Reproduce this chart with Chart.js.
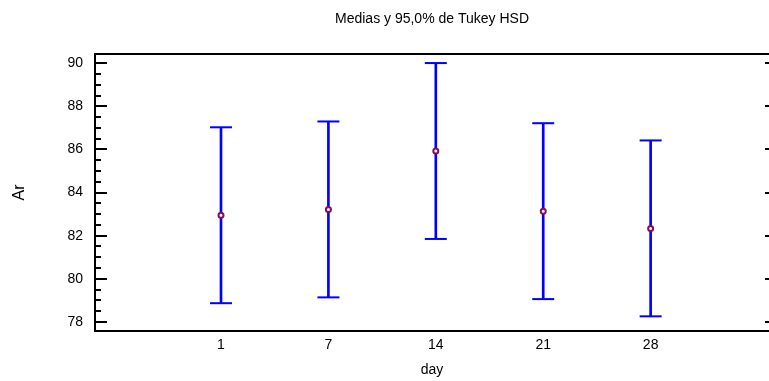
<!DOCTYPE html>
<html>
<head>
<meta charset="utf-8">
<script src="https://cdn.jsdelivr.net/npm/chart.js@4/dist/chart.umd.min.js"></script>
<style>
  html, body { margin: 0; padding: 0; background: #fff; overflow: hidden; }
  canvas { display: block; }
</style>
</head>
<body>
<canvas id="tukeyChart" width="769" height="381"></canvas>
<script>
// Tukey HSD means per day, with a common 95% interval half-width
const days = ["1", "7", "14", "21", "28"];
const means = [82.95, 83.22, 85.93, 83.14, 82.34];
const halfWidth = 4.08;
const yTicks = [78, 80, 82, 84, 86, 88, 90];

const lows = means.map(m => m - halfWidth);
const highs = means.map(m => m + halfWidth);

const blue = "#0000ff";
const markColor = "#8b0a50";
const font = "'Liberation Sans', Arial, sans-serif";

// frame and inward tick marks
const framePlugin = {
  id: "frame",
  afterDraw(chart) {
    const { ctx, chartArea: a, scales } = chart;
    const y = scales.y;
    ctx.save();
    ctx.strokeStyle = "#000";
    ctx.lineWidth = 2;
    ctx.beginPath();
    ctx.moveTo(a.right, a.top);
    ctx.lineTo(a.left, a.top);
    ctx.lineTo(a.left, a.bottom);
    ctx.lineTo(a.right, a.bottom);
    ctx.stroke();
    for (let v = 78; v <= 90.001; v += 0.5) {
      const py = Math.round(y.getPixelForValue(v));
      const major = Math.abs(v - Math.round(v)) < 0.01 && Math.round(v) % 2 === 0;
      ctx.beginPath();
      ctx.moveTo(a.left, py);
      ctx.lineTo(a.left + (major ? 12 : 6), py);
      if (major) {
        ctx.moveTo(a.right, py);
        ctx.lineTo(a.right - 4, py);
      }
      ctx.stroke();
    }
    ctx.restore();
  }
};

new Chart(document.getElementById("tukeyChart"), {
  data: {
    datasets: [
      {
        type: "bar",
        data: days.map((d, i) => ({ x: i, y: [lows[i], highs[i]] })),
        backgroundColor: blue,
        barThickness: 2,
        order: 3
      },
      {
        type: "scatter",
        data: days.map((d, i) => ({ x: i, y: highs[i] })).concat(days.map((d, i) => ({ x: i, y: lows[i] }))),
        pointStyle: "line",
        pointRadius: 11,
        borderColor: blue,
        borderWidth: 2,
        order: 2
      },
      {
        type: "scatter",
        data: days.map((d, i) => ({ x: i, y: means[i] })),
        pointStyle: "circle",
        pointRadius: 2.5,
        borderColor: markColor,
        backgroundColor: "#fff",
        borderWidth: 2,
        order: 1
      }
    ]
  },
  options: {
    responsive: false,
    animation: false,
    layout: { padding: 0, autoPadding: false },
    plugins: {
      legend: { display: false },
      tooltip: { enabled: false },
      title: {
        display: true,
        text: "Medias y 95,0% de Tukey HSD",
        fullSize: false,
        color: "#000",
        font: { family: font, size: 14, weight: "normal" },
        padding: { top: 11, bottom: 26.2 }
      }
    },
    scales: {
      x: {
        type: "linear",
        offset: false,
        min: -1.173,
        max: 5.102,
        grid: { display: false, drawTicks: false },
        border: { display: false },
        afterBuildTicks: s => { s.ticks = days.map((d, i) => ({ value: i })); },
        afterFit: s => { s.height = 50; s.paddingRight = 0; s.paddingLeft = 0; },
        ticks: {
          callback: v => days[v],
          color: "#000",
          padding: 6,
          maxRotation: 0,
          font: { family: font, size: 14 }
        },
        title: {
          display: true,
          text: "day",
          color: "#000",
          font: { family: font, size: 14 },
          padding: { top: 0, bottom: 2 }
        }
      },
      y: {
        min: 77.58,
        max: 90.43,
        grid: { display: false, drawTicks: false },
        border: { display: false },
        afterBuildTicks: s => { s.ticks = yTicks.map(v => ({ value: v })); },
        afterFit: s => { s.width = 95; s.paddingTop = 0; s.paddingBottom = 0; },
        ticks: {
          color: "#000",
          padding: 12,
          font: { family: font, size: 14 }
        },
        title: {
          display: true,
          text: "Ar",
          color: "#000",
          font: { family: font, size: 16 },
          padding: { top: 10, bottom: 0 }
        }
      }
    }
  },
  plugins: [framePlugin]
});
</script>
</body>
</html>
